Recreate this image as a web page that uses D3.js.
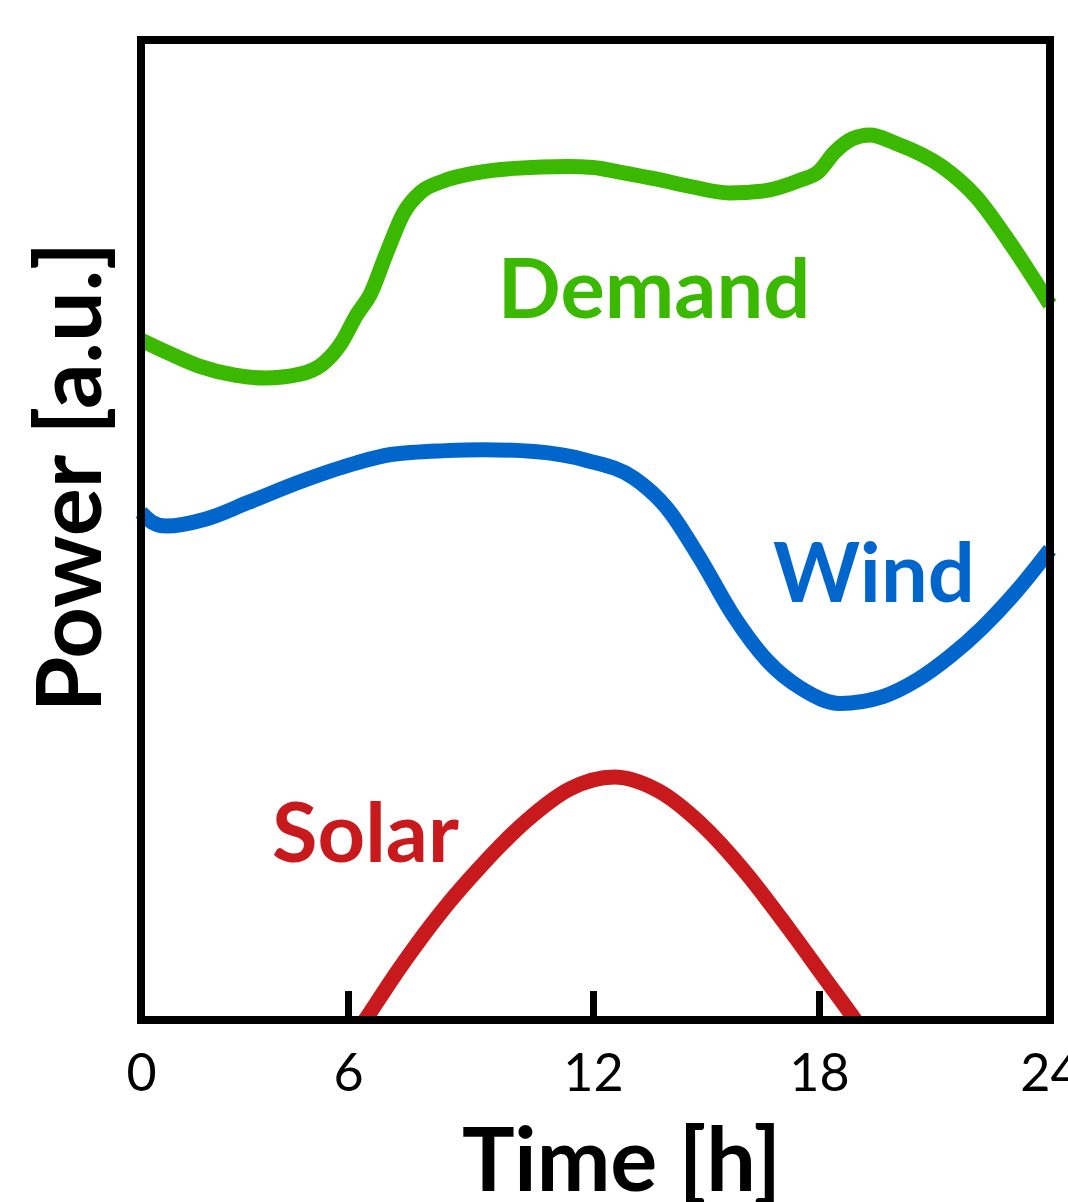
<!DOCTYPE html>
<html><head><meta charset="utf-8">
<script src="https://cdn.jsdelivr.net/npm/d3@7"></script>
<style>html,body{margin:0;padding:0;background:#fff;overflow:hidden}</style>
</head><body>
<svg id="chart" width="1068" height="1202"></svg>
<script>
// ---- data ----
const hourTicks = [0, 6, 12, 18, 24];
const tickLabels = ["0", "6", "12", "18", "24"];

const demandHours  = [0, 0.84, 1.71, 2.72, 3.59, 4.61, 5.25, 5.77, 6.22, 6.54, 6.93, 7.37, 7.79, 8.33, 9.21, 10.07, 11.39, 12.0, 12.74, 13.70, 14.65, 15.61, 16.54, 17.50, 17.97, 18.42, 18.86, 19.32, 19.97, 21.19, 22.08, 22.96, 23.92, 24];
const demandValues = [69.4, 68.0, 66.7, 65.8, 65.5, 65.9, 66.9, 68.9, 72.0, 74.0, 78.1, 82.4, 84.5, 85.6, 86.5, 86.9, 87.1, 87.0, 86.5, 85.8, 85.0, 84.4, 84.6, 85.7, 86.5, 88.6, 89.9, 90.3, 89.5, 87.1, 84.0, 79.3, 73.5, 73.0];

const windHours  = [0, 0.32, 0.72, 1.86, 3.10, 4.67, 6.17, 7.05, 8.38, 9.33, 10.56, 11.85, 13.09, 13.97, 14.84, 15.72, 16.62, 17.50, 18.55, 19.66, 20.55, 21.40, 22.26, 23.14, 24];
const windValues = [51.8, 50.8, 50.4, 51.1, 52.8, 55.0, 56.8, 57.7, 58.1, 58.2, 58.0, 57.1, 55.3, 52.2, 47.1, 41.3, 36.7, 33.9, 32.3, 33.0, 34.7, 37.1, 40.1, 43.8, 48.0];

const solarHours  = [6.10, 6.42, 7.30, 8.28, 9.28, 10.36, 11.44, 12.56, 13.73, 14.87, 16.04, 17.20, 18.18, 18.94, 19.30];
const solarValues = [-2, 0, 5.5, 11.0, 15.8, 20.3, 23.6, 24.8, 23.4, 20.0, 15.1, 9.3, 4.1, 0, -2];

const seriesNames  = ["Demand", "Wind", "Solar"];
const labelHours   = [9.67, 16.78, 3.80];
const labelValues  = [71.6, 42.7, 16.1];

const xTitle = "Time [h]";
const yTitle = "Power [a.u.]";

// ---- layout ----
const svg = d3.select("#chart");
const x = d3.scaleLinear().domain(hourTicks).range([141, 348, 593, 819, 1050]);
const y = d3.scaleLinear().domain([0, 100]).range([1020, 40]);

const colors = {Demand: "#3bb800", Wind: "#0066cc", Solar: "#c81a1c"};
const FONT = "Lato, 'Open Sans', sans-serif";

const series = [
  {name: "Demand", pts: demandHours.map((h, i) => [h, demandValues[i]])},
  {name: "Wind",   pts: windHours.map((h, i) => [h, windValues[i]])},
  {name: "Solar",  pts: solarHours.map((h, i) => [h, solarValues[i]])}
];

svg.append("defs").append("clipPath").attr("id", "plotclip")
  .append("rect")
  .attr("x", x(0) - 10).attr("y", y(100))
  .attr("width", x(24) - x(0) + 20).attr("height", y(0) - y(100));

const line = d3.line()
  .x(d => x(d[0])).y(d => y(d[1]))
  .curve(d3.curveMonotoneX);

svg.append("g").attr("clip-path", "url(#plotclip)")
  .selectAll("path").data(series).join("path")
  .attr("d", d => line(d.pts))
  .attr("fill", "none")
  .attr("stroke", d => colors[d.name])
  .attr("stroke-width", 15)
  .attr("stroke-linejoin", "round");

// series labels
svg.append("g").selectAll("text").data(seriesNames).join("text")
  .attr("x", (d, i) => x(labelHours[i]))
  .attr("y", (d, i) => y(labelValues[i]))
  .attr("fill", d => colors[d])
  .style("font-family", FONT).style("font-weight", 700).style("font-size", "83px")
  .text(d => d);

// frame
svg.append("rect")
  .attr("x", x(0)).attr("y", y(100))
  .attr("width", x(24) - x(0)).attr("height", y(0) - y(100))
  .attr("fill", "none").attr("stroke", "#000").attr("stroke-width", 8);

// x axis ticks (pointing inward) and labels
const xAxis = d3.axisBottom(x)
  .tickValues(hourTicks)
  .tickFormat((d, i) => tickLabels[i])
  .tickSizeInner(-29).tickSizeOuter(0).tickPadding(34);

const gx = svg.append("g").attr("transform", `translate(0,${y(0)})`).call(xAxis);
gx.select(".domain").remove();
gx.selectAll(".tick line").attr("stroke", "#000").attr("stroke-width", 7);
gx.selectAll(".tick text")
  .style("font-family", FONT).style("font-size", "52px").attr("fill", "#000");

// axis titles
svg.append("text")
  .attr("x", (x(0) + x(24)) / 2 + 26).attr("y", 1191)
  .attr("text-anchor", "middle")
  .style("font-family", FONT).style("font-weight", 700).style("font-size", "88px")
  .attr("fill", "#000").text(xTitle);

svg.append("text")
  .attr("transform", `translate(101,${(y(0) + y(100)) / 2 - 53}) rotate(-90)`)
  .attr("text-anchor", "middle")
  .style("font-family", FONT).style("font-weight", 700).style("font-size", "90px")
  .attr("fill", "#000").text(yTitle);
</script>
</body></html>
